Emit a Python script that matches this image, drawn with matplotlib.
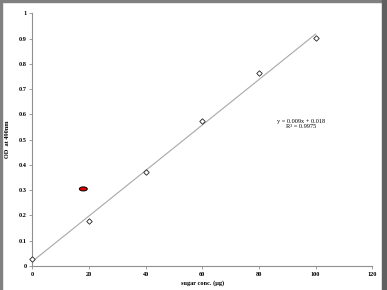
import matplotlib
matplotlib.use("Agg")
import matplotlib.pyplot as plt
from matplotlib.patches import Ellipse, Rectangle
import numpy as np

conc = [0, 20, 40, 60, 80, 100]
od = [0.026, 0.179, 0.372, 0.574, 0.762, 0.902]
slope, intercept = 0.009, 0.018
outlier_x, outlier_y = 18, 0.305
xticks = [0, 20, 40, 60, 80, 100, 120]
yticks = [0, 0.1, 0.2, 0.3, 0.4, 0.5, 0.6, 0.7, 0.8, 0.9, 1]
eq_text = "y = 0.009x + 0.018\nR\u00b2 = 0.9975"

plt.rcParams['font.family'] = ['Liberation Serif', 'DejaVu Serif']

fig = plt.figure(figsize=(3.87, 2.90), dpi=100)
ax = fig.add_axes([0.0835, 0.0828, 0.8785, 0.8712])

fx = np.array([conc[0], conc[-1]])
ax.plot(fx, slope * fx + intercept, color='#a8a8a8', lw=0.8, zorder=2)
ax.plot(conc, od, linestyle='none', marker='D', ms=2.8, mfc='white', mec='#202020', mew=0.6, zorder=3, clip_on=False)
ax.add_patch(Ellipse((outlier_x, outlier_y), 2.8, 0.016, facecolor='#dd0000', edgecolor='black', lw=0.7, zorder=4))

ax.set_xlim(0, 120)
ax.set_ylim(0, 1)
ax.set_xticks(xticks)
ax.set_xticklabels([str(v) for v in xticks])
ax.set_yticks(yticks)
ax.set_yticklabels(['0', '0.1', '0.2', '0.3', '0.4', '0.5', '0.6', '0.7', '0.8', '0.9', '1'])
for s in ['top', 'right']:
    ax.spines[s].set_visible(False)
for s in ['left', 'bottom']:
    ax.spines[s].set_color('#909090')
    ax.spines[s].set_linewidth(0.8)
ax.tick_params(axis='both', labelsize=4.5, length=2, width=0.6, color='#909090', pad=2)
for lab in ax.get_xticklabels() + ax.get_yticklabels():
    lab.set_fontweight('bold')

ax.set_xlabel('sugar conc. (\u03bcg)', fontsize=4.5, fontweight='bold', labelpad=3)
ax.set_ylabel('OD  at 490nm', fontsize=4.5, fontweight='bold', labelpad=6)
ax.text(95, 0.562, eq_text, fontsize=4.5, ha='center', va='center', linespacing=1.1)

# frame decorations
fig.patches.append(Rectangle((0, 0), 2 / 387, 1, transform=fig.transFigure, color='#808080', zorder=0))
fig.patches.append(Rectangle((0, 1 - 2 / 290), 1, 2 / 290, transform=fig.transFigure, color='#808080', zorder=0))
fig.patches.append(Rectangle((382 / 387, 0), 5 / 387, 1, transform=fig.transFigure, color='#606060', zorder=0))

fig.savefig('out.png', dpi=100)
